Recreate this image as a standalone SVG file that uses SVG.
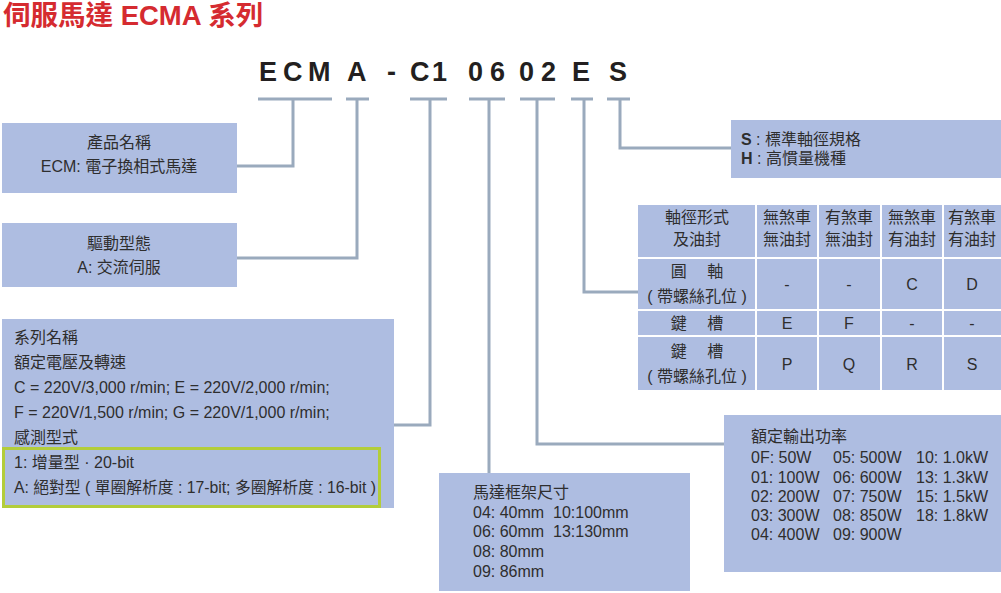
<svg xmlns="http://www.w3.org/2000/svg" width="1001" height="593" viewBox="0 0 1001 593">
<style>
.box{fill:#aebde1}
.ln{fill:none;stroke:#9aaabd;stroke-width:3}
.t{font-family:"Liberation Sans","Noto Sans CJK TC",sans-serif;font-size:16px;fill:#2e2e2e}
.c{text-anchor:middle}
.code{font-family:"Liberation Sans",sans-serif;font-size:27px;font-weight:bold;fill:#231f20}
.grid{stroke:#fff;stroke-width:2;fill:none}
</style>
<rect width="1001" height="593" fill="#fff"/>
<text x="3" y="25" font-family="'Liberation Sans','Noto Sans CJK TC',sans-serif" font-size="27.5" font-weight="bold" fill="#d52b30">伺服馬達 ECMA 系列</text>
<g id="code">
<text class="code" x="259 283 308" y="81">ECM</text>
<text class="code" x="347" y="81">A</text>
<text class="code" x="387" y="81">-</text>
<text class="code" x="410 432" y="81">C1</text>
<text class="code" x="468 490" y="81">06</text>
<text class="code" x="519 541" y="81">02</text>
<text class="code" x="572" y="81">E</text>
<text class="code" x="609" y="81">S</text>
</g>
<g id="connectors">
<path class="ln" d="M258 99H332M293 99V166H237"/>
<path class="ln" d="M346 99H369M357 99V258H237"/>
<path class="ln" d="M410 99H447M430 99V425H394"/>
<path class="ln" d="M469 99H505M489 99V473"/>
<path class="ln" d="M520 99H555M537 99V444H727"/>
<path class="ln" d="M571 99H593M584 99V292H638"/>
<path class="ln" d="M607 99H630M620 99V148H731"/>
</g>
<g id="product">
<rect class="box" x="2" y="123" width="235" height="70"/>
<text class="t c" x="119" y="148">產品名稱</text>
<text class="t c" x="119" y="172">ECM: 電子換相式馬達</text>
</g>
<g id="drive">
<rect class="box" x="2" y="223" width="235" height="64"/>
<text class="t c" x="119" y="249">驅動型態</text>
<text class="t c" x="119" y="273">A: 交流伺服</text>
</g>
<g id="series">
<rect class="box" x="2" y="319" width="392" height="189"/>
<text class="t" x="14" y="343">系列名稱</text>
<text class="t" x="14" y="368">額定電壓及轉速</text>
<text class="t" x="14" y="393">C = 220V/3,000 r/min; E = 220V/2,000 r/min;</text>
<text class="t" x="14" y="418">F = 220V/1,500 r/min; G = 220V/1,000 r/min;</text>
<text class="t" x="14" y="443">感測型式</text>
<text class="t" x="14" y="468">1: 增量型 · 20-bit</text>
<text class="t" x="14" y="493" textLength="362" lengthAdjust="spacingAndGlyphs">A: 絕對型 ( 單圈解析度 : 17-bit; 多圈解析度 : 16-bit )</text>
<rect x="3.5" y="448.5" width="376" height="58" fill="none" stroke="#b3cd3a" stroke-width="3"/>
</g>
<g id="shaft-spec">
<rect class="box" x="731" y="120" width="270" height="58"/>
<text class="t" x="741" y="145"><tspan font-weight="bold">S</tspan> : 標準軸徑規格</text>
<text class="t" x="741" y="164"><tspan font-weight="bold">H</tspan> : 高慣量機種</text>
</g>
<g id="shaft-table">
<rect class="box" x="638" y="205" width="363" height="186"/>
<path class="grid" d="M638 258H1001M638 310H1001M638 336H1001M638 391H1001M756 205V391M818 205V391M881 205V391M943 205V391"/>
<text class="t c" x="697" y="223">軸徑形式</text>
<text class="t c" x="697" y="245">及油封</text>
<text class="t c" x="787" y="223">無煞車</text><text class="t c" x="787" y="245">無油封</text>
<text class="t c" x="849" y="223">有煞車</text><text class="t c" x="849" y="245">無油封</text>
<text class="t c" x="912" y="223">無煞車</text><text class="t c" x="912" y="245">有油封</text>
<text class="t c" x="972" y="223">有煞車</text><text class="t c" x="972" y="245">有油封</text>
<text class="t c" x="697" y="277">圓　 軸</text>
<text class="t c" x="697" y="302">( 帶螺絲孔位 )</text>
<text class="t c" x="787" y="290">-</text><text class="t c" x="849" y="290">-</text>
<text class="t c" x="912" y="290">C</text><text class="t c" x="972" y="290">D</text>
<text class="t c" x="697" y="329">鍵　 槽</text>
<text class="t c" x="787" y="329">E</text><text class="t c" x="849" y="329">F</text>
<text class="t c" x="912" y="329">-</text><text class="t c" x="972" y="329">-</text>
<text class="t c" x="697" y="357">鍵　 槽</text>
<text class="t c" x="697" y="382">( 帶螺絲孔位 )</text>
<text class="t c" x="787" y="370">P</text><text class="t c" x="849" y="370">Q</text>
<text class="t c" x="912" y="370">R</text><text class="t c" x="972" y="370">S</text>
</g>
<g id="frame">
<rect class="box" x="439" y="473" width="251" height="118"/>
<text class="t" x="473" y="498">馬達框架尺寸</text>
<text class="t" x="473" y="518" xml:space="preserve">04: 40mm  10:100mm</text>
<text class="t" x="473" y="537" xml:space="preserve">06: 60mm  13:130mm</text>
<text class="t" x="473" y="557">08: 80mm</text>
<text class="t" x="473" y="577">09: 86mm</text>
</g>
<g id="power">
<rect class="box" x="724" y="415" width="277" height="157"/>
<text class="t" x="751" y="442">額定輸出功率</text>
<text class="t" x="751" y="463">0F: 50W</text><text class="t" x="833" y="463">05: 500W</text><text class="t" x="916" y="463">10: 1.0kW</text>
<text class="t" x="751" y="483">01: 100W</text><text class="t" x="833" y="483">06: 600W</text><text class="t" x="916" y="483">13: 1.3kW</text>
<text class="t" x="751" y="502">02: 200W</text><text class="t" x="833" y="502">07: 750W</text><text class="t" x="916" y="502">15: 1.5kW</text>
<text class="t" x="751" y="521">03: 300W</text><text class="t" x="833" y="521">08: 850W</text><text class="t" x="916" y="521">18: 1.8kW</text>
<text class="t" x="751" y="540">04: 400W</text><text class="t" x="833" y="540">09: 900W</text>
</g>
</svg>
